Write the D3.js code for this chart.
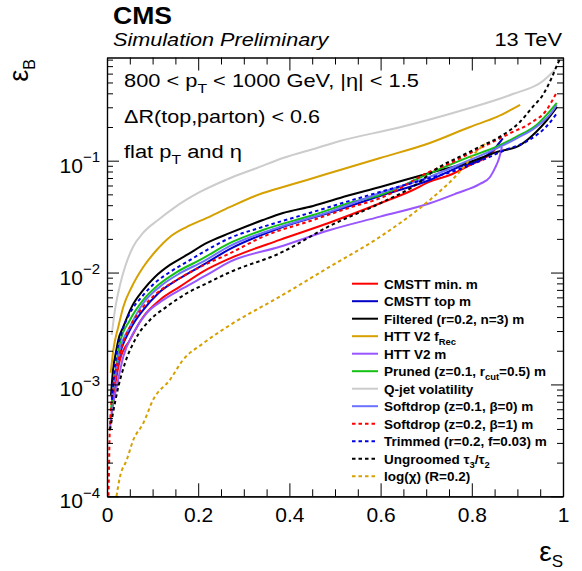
<!DOCTYPE html>
<html><head><meta charset="utf-8">
<script src="https://cdn.jsdelivr.net/npm/d3@7"></script>
<style>
body{margin:0;background:#fff}
svg text{font-family:"Liberation Sans",Arial,Helvetica,sans-serif;fill:#000}
</style></head>
<body><svg id="c" width="582" height="571"></svg>
<script>
// ---------------- data: [signal efficiency, background efficiency] ----------------
const cmsttMin = [[0.0103,0.000556],[0.0175,0.000955],[0.0285,0.00166],[0.0504,0.0025],[0.0796,0.00403],[0.116,0.00569],[0.160,0.00748],[0.2105,0.0102],[0.270,0.0134],[0.379,0.0196],[0.489,0.0280],[0.599,0.0416],[0.671,0.0547],[0.708,0.0649],[0.752,0.0745],[0.796,0.0915],[0.833,0.1086],[0.855,0.1326],[0.860,0.144]];
const cmsttTop = [[0.0103,0.000778],[0.0248,0.00166],[0.0504,0.00307],[0.0796,0.00463],[0.1125,0.00653],[0.160,0.00889],[0.2105,0.0117],[0.270,0.01625],[0.379,0.0250],[0.489,0.0344],[0.599,0.0484],[0.708,0.0672],[0.774,0.0884],[0.818,0.1015],[0.847,0.1246],[0.868,0.1585]];
const filtered = [[0.0088,0.000805],[0.0132,0.00135],[0.0197,0.00195],[0.0248,0.0025],[0.0357,0.00327],[0.0542,0.00493],[0.0796,0.00699],[0.105,0.00913],[0.138,0.0117],[0.175,0.01436],[0.219,0.0184],[0.270,0.0226],[0.342,0.0295],[0.386,0.0341],[0.452,0.0394],[0.511,0.0464],[0.599,0.0582],[0.708,0.0776],[0.796,0.0974],[0.855,0.1196],[0.906,0.138],[0.941,0.1805],[0.965,0.231],[0.987,0.302]];
const httFrec = [[0.0081,0.00127],[0.0138,0.00203],[0.0248,0.00327],[0.0357,0.00493],[0.0542,0.00743],[0.0796,0.0112],[0.109,0.0159],[0.138,0.0208],[0.175,0.0256],[0.219,0.0308],[0.270,0.0386],[0.342,0.0514],[0.386,0.0582],[0.4386,0.0672],[0.511,0.0826],[0.599,0.1057],[0.708,0.144],[0.796,0.200],[0.855,0.246],[0.906,0.315]];
const httM = [[0.0066,0.000408],[0.0103,0.000556],[0.0213,0.000955],[0.0357,0.00177],[0.0577,0.00289],[0.087,0.00435],[0.1235,0.00569],[0.167,0.00724],[0.219,0.00952],[0.270,0.01252],[0.379,0.0170],[0.489,0.0240],[0.599,0.0316],[0.708,0.0416],[0.767,0.0511],[0.818,0.0619],[0.840,0.0715],[0.851,0.0861],[0.860,0.1057],[0.866,0.1326]];
const pruned = [[0.0088,0.000592],[0.0175,0.00122],[0.0285,0.00235],[0.0504,0.00377],[0.0796,0.00569],[0.1125,0.00774],[0.153,0.0101],[0.204,0.01296],[0.270,0.0184],[0.342,0.0240],[0.452,0.0327],[0.539,0.0427],[0.599,0.0494],[0.708,0.0772],[0.796,0.1086],[0.8546,0.1334],[0.8985,0.1639],[0.942,0.2085],[0.979,0.302],[0.986,0.328]];
const qjet = [[0.0103,0.00277],[0.0175,0.00463],[0.0285,0.00774],[0.0395,0.0112],[0.057,0.01694],[0.079,0.0226],[0.112,0.0295],[0.1447,0.0373],[0.175,0.0450],[0.204,0.0525],[0.276,0.0715],[0.329,0.0861],[0.386,0.1057],[0.4605,0.1299],[0.511,0.150],[0.636,0.196],[0.781,0.284],[0.890,0.394],[0.956,0.516],[0.982,0.647]];
const softdropB0 = [[0.0103,0.000727],[0.0175,0.00114],[0.0285,0.00203],[0.0504,0.00328],[0.0796,0.00532],[0.116,0.00748],[0.160,0.00986],[0.2105,0.01252],[0.270,0.0173],[0.379,0.0255],[0.489,0.0350],[0.599,0.0514],[0.708,0.0719],[0.796,0.1015],[0.8546,0.129],[0.8985,0.1585],[0.942,0.2014],[0.979,0.284],[0.986,0.315]];
const softdropB1 = [[0.0033,0.000101],[0.0044,0.000172],[0.0055,0.000319],[0.0077,0.000534],[0.0138,0.00095],[0.0285,0.00191],[0.0504,0.00327],[0.0796,0.00493],[0.109,0.00653],[0.153,0.00859],[0.204,0.0112],[0.270,0.01488],[0.342,0.0209],[0.452,0.0295],[0.539,0.0388],[0.599,0.0461],[0.708,0.0797],[0.752,0.0948],[0.796,0.1164],[0.840,0.143],[0.884,0.1758],[0.928,0.216],[0.964,0.284],[0.985,0.400]];
const trimmed = [[0.011,0.000727],[0.0154,0.00122],[0.0213,0.00191],[0.0322,0.00289],[0.0504,0.00435],[0.0761,0.00605],[0.105,0.00807],[0.138,0.0101],[0.175,0.01244],[0.219,0.0159],[0.270,0.0204],[0.342,0.0256],[0.452,0.0348],[0.539,0.0446],[0.599,0.0525],[0.708,0.070],[0.768,0.0826],[0.818,0.0994],[0.868,0.122],[0.928,0.155],[0.965,0.205],[0.985,0.26]];
const ungroomed = [[0.0066,0.000392],[0.0132,0.000556],[0.0248,0.00095],[0.0395,0.00155],[0.0614,0.0025],[0.0943,0.00377],[0.131,0.00496],[0.175,0.00653],[0.219,0.00802],[0.270,0.0101],[0.379,0.01488],[0.489,0.0262],[0.599,0.0416],[0.671,0.0586],[0.730,0.0884],[0.774,0.1086],[0.818,0.1334],[0.862,0.1639],[0.906,0.223],[0.934,0.304],[0.956,0.387],[0.976,0.560],[0.989,0.746],[0.996,0.84]];
const logChi = [[0.0208,0.0001],[0.0285,0.00015],[0.0432,0.000211],[0.0577,0.000319],[0.0796,0.00045],[0.101,0.000727],[0.138,0.0011],[0.167,0.00166],[0.211,0.00233],[0.270,0.0034],[0.379,0.00609],[0.489,0.0113],[0.599,0.0209],[0.708,0.0446],[0.767,0.0745],[0.789,0.0948],[0.803,0.1124],[0.818,0.129],[0.829,0.141]];

const seriesNames = ["CMSTT min. m","CMSTT top m","Filtered (r=0.2, n=3) m","HTT V2 f_{Rec}","HTT V2 m","Pruned (z=0.1, r_{cut}=0.5) m","Q-jet volatility","Softdrop (z=0.1, β=0) m","Softdrop (z=0.2, β=1) m","Trimmed (r=0.2, f=0.03) m","Ungroomed τ_{3}/τ_{2}","log(χ) (R=0.2)"];
const seriesData = [cmsttMin,cmsttTop,filtered,httFrec,httM,pruned,qjet,softdropB0,softdropB1,trimmed,ungroomed,logChi];

const xMajorTicks = [0,0.2,0.4,0.6,0.8,1];
const xTickLabels = ["0","0.2","0.4","0.6","0.8","1"];
const yMajorTicks = [1e-4,1e-3,1e-2,1e-1];
const yTickExponents = ["−4","−3","−2","−1"];
const infoLines = ["800 < p_{T} < 1000 GeV, |η| < 1.5","ΔR(top,parton) < 0.6","flat p_{T} and η"];

// ---------------- styles ----------------
const colors = ["#ff0000","#0000c8","#000000","#d6a000","#9955ff","#14c014","#cccccc","#6a72ff","#ff0000","#0000e6","#000000","#d6a000"];
const dashes = [null,null,null,null,null,null,null,null,"3.5,3","3.5,3","3.5,3","3.5,3"];

// ---------------- layout ----------------
const L=107,R=563,T=57.5,B=496.3;
const x = d3.scaleLinear().domain([0,1]).range([L,R]);
const y = d3.scaleLog().domain([1e-4,0.836]).range([B,T]);
const svg = d3.select("#c");
svg.append("rect").attr("width",582).attr("height",571).attr("fill","#fff");
svg.append("defs").append("clipPath").attr("id","clip").append("rect")
  .attr("x",L).attr("y",T).attr("width",R-L).attr("height",B-T);

// rich text helper: "_{...}" subscripts
function rich(textSel, str, subScale, subDy){
  const parts = str.split(/_\{([^}]*)\}/);
  let pend = 0;
  parts.forEach((p,i)=>{
    if(p==="") return;
    if(i%2===0){
      const ts = textSel.append("tspan").text(p);
      if(pend){ ts.attr("dy",pend); pend=0; }
    } else {
      textSel.append("tspan").attr("font-size",(subScale*100)+"%").attr("dy",subDy+pend).text(p);
      pend = -subDy;
    }
  });
}
function fitGroup(g, x0, y0, w){
  const bb = g.node().getBBox();
  const s = w/bb.width;
  g.attr("transform",`translate(${x0},${y0}) scale(${s},1)`);
}

// ---------------- curves ----------------
const line = d3.line().x(d=>x(d[0])).y(d=>y(d[1])).curve(d3.curveMonotoneX);
const curves = svg.append("g").attr("clip-path","url(#clip)");
seriesData.forEach((data,i)=>{
  curves.append("path").datum(data).attr("d",line)
    .attr("fill","none").attr("stroke",colors[i]).attr("stroke-width",2)
    .attr("stroke-dasharray",dashes[i]).attr("stroke-linejoin","round");
});

// ---------------- axes ----------------
const xMinor = d3.range(0,1.0001,0.05).filter(v=>!xMajorTicks.some(m=>Math.abs(m-v)<1e-6));
const yMinor = [];
[-4,-3,-2,-1].forEach(k=>{ for(let j=2;j<=9;j++){ const v=j*Math.pow(10,k); if(v<=0.836) yMinor.push(v);} });

function styleAxis(g){ g.selectAll("path,line").attr("stroke","#000").attr("stroke-width",1); g.selectAll(".domain").attr("stroke-width",1.2); }

const gxb = svg.append("g").attr("transform",`translate(0,${B})`)
  .call(d3.axisBottom(x).tickValues(xMajorTicks).tickSize(-13).tickSizeOuter(0).tickPadding(11)
        .tickFormat((d,i)=>xTickLabels[i]));
gxb.selectAll("text").attr("font-size",21).attr("font-family","Liberation Sans, Arial, sans-serif");
svg.append("g").attr("transform",`translate(0,${B})`).call(d3.axisBottom(x).tickValues(xMinor).tickSize(-7).tickSizeOuter(0).tickFormat("")).call(styleAxis);
styleAxis(gxb);
svg.append("g").attr("transform",`translate(0,${T})`).call(d3.axisTop(x).tickValues(xMajorTicks).tickSize(-13).tickSizeOuter(0).tickFormat("")).call(styleAxis);
svg.append("g").attr("transform",`translate(0,${T})`).call(d3.axisTop(x).tickValues(xMinor).tickSize(-7).tickSizeOuter(0).tickFormat("")).call(styleAxis);
svg.append("g").attr("transform",`translate(${L},0)`).call(d3.axisLeft(y).tickValues(yMajorTicks).tickSize(-12).tickSizeOuter(0).tickFormat("")).call(styleAxis);
svg.append("g").attr("transform",`translate(${L},0)`).call(d3.axisLeft(y).tickValues(yMinor).tickSize(-6).tickSizeOuter(0).tickFormat("")).call(styleAxis);
svg.append("g").attr("transform",`translate(${R},0)`).call(d3.axisRight(y).tickValues(yMajorTicks).tickSize(-12).tickSizeOuter(0).tickFormat("")).call(styleAxis);
svg.append("g").attr("transform",`translate(${R},0)`).call(d3.axisRight(y).tickValues(yMinor).tickSize(-6).tickSizeOuter(0).tickFormat("")).call(styleAxis);

// y tick labels 10^k
yMajorTicks.forEach((v,i)=>{
  const t = svg.append("text").attr("x",100).attr("y",y(v)+12).attr("text-anchor","end").attr("font-size",21);
  t.append("tspan").text("10");
  t.append("tspan").attr("font-size",15).attr("dy",-10.5).text(yTickExponents[i]);
});

// axis titles
const yt = svg.append("text").attr("transform",`translate(28,59) rotate(-90)`).attr("text-anchor","end");
yt.append("tspan").attr("font-size",27).text("ε");
yt.append("tspan").attr("font-size",16).attr("dy",7).text("B");
const xt = svg.append("text").attr("x",563).attr("y",561).attr("text-anchor","end");
xt.append("tspan").attr("font-size",28).text("ε");
xt.append("tspan").attr("font-size",17).attr("dy",6).text("S");

// header
const gCMS = svg.append("g"); gCMS.append("text").attr("font-size",24).attr("font-weight","bold").text("CMS");
fitGroup(gCMS,113,24,59);
const gSim = svg.append("g"); gSim.append("text").attr("font-size",19).attr("font-style","italic").text("Simulation Preliminary");
fitGroup(gSim,113,46,217);
const gTeV = svg.append("g"); gTeV.append("text").attr("font-size",19).attr("text-anchor","end").text("13 TeV");
fitGroup(gTeV,562,46,68);

// info text
const infoY = [87,122.5,157.5];
const infoW = [295,196,118];
infoLines.forEach((s,i)=>{
  const g = svg.append("g");
  const t = g.append("text").attr("font-size",18);
  rich(t,s,0.72,6);
  fitGroup(g,124,infoY[i],infoW[i]);
});

// legend
const leg = svg.append("g");
seriesNames.forEach((name,i)=>{
  const yy = 283.7 + i*17.5;
  leg.append("line").attr("x1",352).attr("x2",378).attr("y1",yy).attr("y2",yy)
    .attr("stroke",colors[i]).attr("stroke-width",2).attr("stroke-dasharray",dashes[i]);
  const t = leg.append("text").attr("x",384).attr("y",yy+5).attr("font-size",13.5).attr("font-weight","bold");
  rich(t,name,0.7,4);
});
</script></body></html>
